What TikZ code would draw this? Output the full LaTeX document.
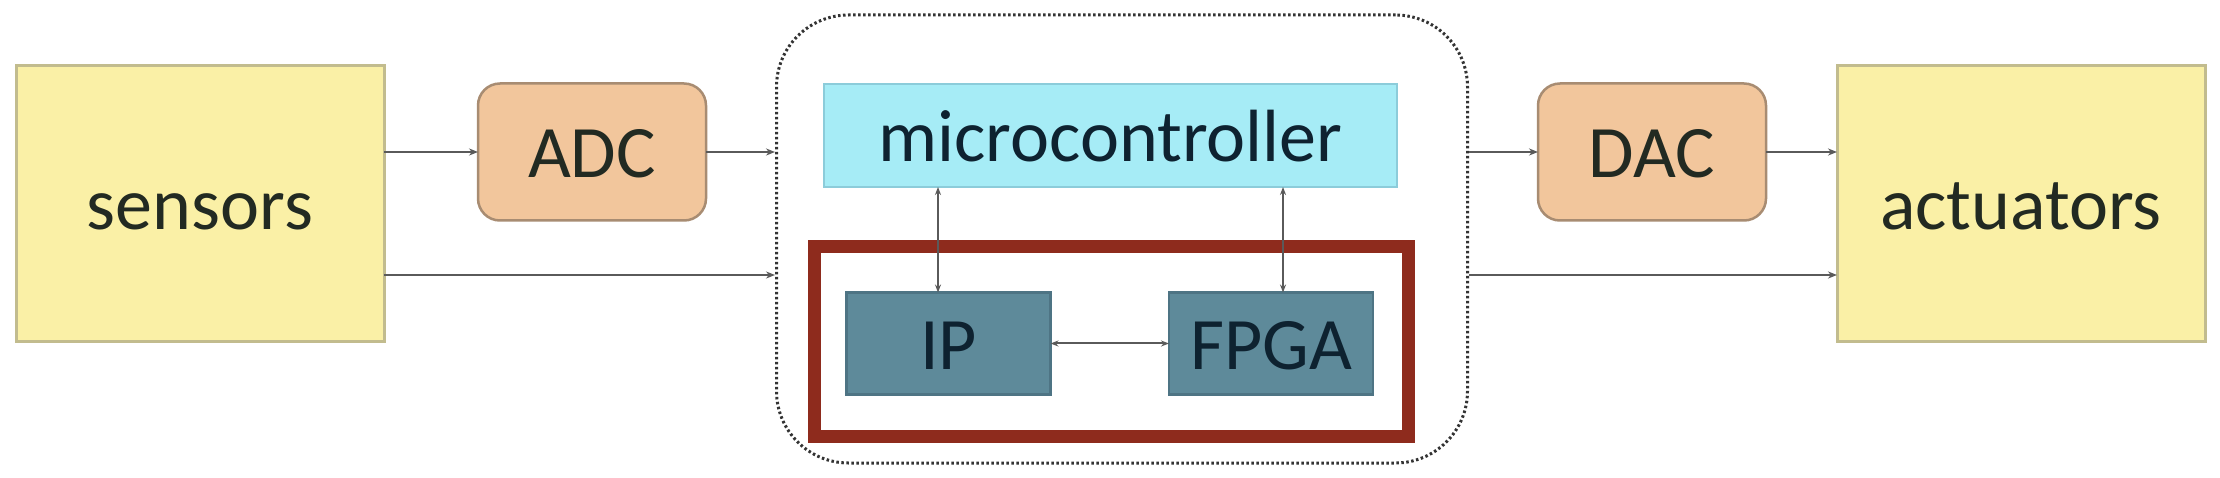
\documentclass[tikz,border=0pt]{standalone}
\usepackage{fontspec}
\setmainfont{Carlito}
\usetikzlibrary{arrows.meta,calc}
\definecolor{yfill}{HTML}{FAF0A6}
\definecolor{ydraw}{HTML}{C2BC8E}
\definecolor{pfill}{HTML}{F2C69C}
\definecolor{pdraw}{HTML}{A88C72}
\definecolor{cfill}{HTML}{A6ECF6}
\definecolor{cdraw}{HTML}{8CCCDA}
\definecolor{tfill}{HTML}{5E8A9A}
\definecolor{tdraw}{HTML}{4E7484}
\definecolor{rbox}{HTML}{8E2B1D}
\definecolor{txt}{HTML}{222A22}
\definecolor{ttxt}{HTML}{0E2230}
\definecolor{conn}{HTML}{5A5A5A}
\tikzset{
  x=1pt, y=-1pt,
  lbl/.style={font=\fontsize{74}{80}\selectfont, inner sep=0pt, outer sep=0pt, text height=52pt, text depth=0pt},
  endbox/.style={lbl, draw=ydraw, fill=yfill, line width=3pt, text=txt, minimum width=368pt, minimum height=276pt},
  conv/.style={lbl, draw=pdraw, fill=pfill, line width=2.5pt, rounded corners=22pt, text=txt, minimum width=228pt, minimum height=137pt},
  mcu/.style={lbl, draw=cdraw, fill=cfill, line width=2.5pt, text=ttxt, minimum width=573pt, minimum height=103pt},
  hw/.style={lbl, draw=tdraw, fill=tfill, line width=2.5pt, text=ttxt, minimum width=204pt, minimum height=102pt},
  outerbox/.style={draw=black!80, line width=3pt, dash pattern=on 2.5pt off 2.5pt, rounded corners=72pt, minimum width=691pt, minimum height=448pt, inner sep=0pt},
  redbox/.style={draw=rbox, line width=13pt, minimum width=594pt, minimum height=190pt, inner sep=0pt},
  arr/.style={draw=conn, line width=2.2pt, -{Stealth[length=9pt,width=7pt]}},
  darr/.style={draw=conn, line width=2pt, {Stealth[length=8pt,width=6pt]}-{Stealth[length=8pt,width=6pt]}},
}
\begin{document}
\begin{tikzpicture}
\useasboundingbox (0,0) rectangle (2220,478);
\fill[white] (0,0) rectangle (2220,478);
\node[outerbox] (outer) at (1122,239) {};
\node[redbox] (fbox) at (1111.5,341.5) {};
\node[endbox] (sensors) at (200,204) {sensors};
\node[endbox] (actuators) at (2021,204) {actuators};
\node[conv] (adc) at (592,152) {ADC};
\node[conv] (dac) at (1652,152) {DAC};
\node[mcu] (mcu) at (1110.5,135.5) {microcontroller};
\node[hw] (ip) at (948.5,343.5) {IP};
\node[hw] (fpga) at (1271,343.5) {FPGA};
\coordinate (low) at (0,275);
\coordinate (ipx) at (938,0);
\coordinate (fpgax) at (1283,0);
% connectors
\draw[arr] (sensors.east |- adc.west) -- (adc.west);
\draw[arr] (adc.east) -- (adc.east -| outer.west);
\draw[arr] (sensors.east |- low) -- (outer.west |- low);
\draw[arr] (outer.east |- dac.west) -- (dac.west);
\draw[arr] (dac.east) -- (dac.east -| actuators.west);
\draw[arr] (outer.east |- low) -- (actuators.west |- low);
\draw[darr] (ipx |- mcu.south) -- (ipx |- ip.north);
\draw[darr] (fpgax |- mcu.south) -- (fpgax |- fpga.north);
\draw[darr] (ip.east) -- (fpga.west);
\end{tikzpicture}
\end{document}
